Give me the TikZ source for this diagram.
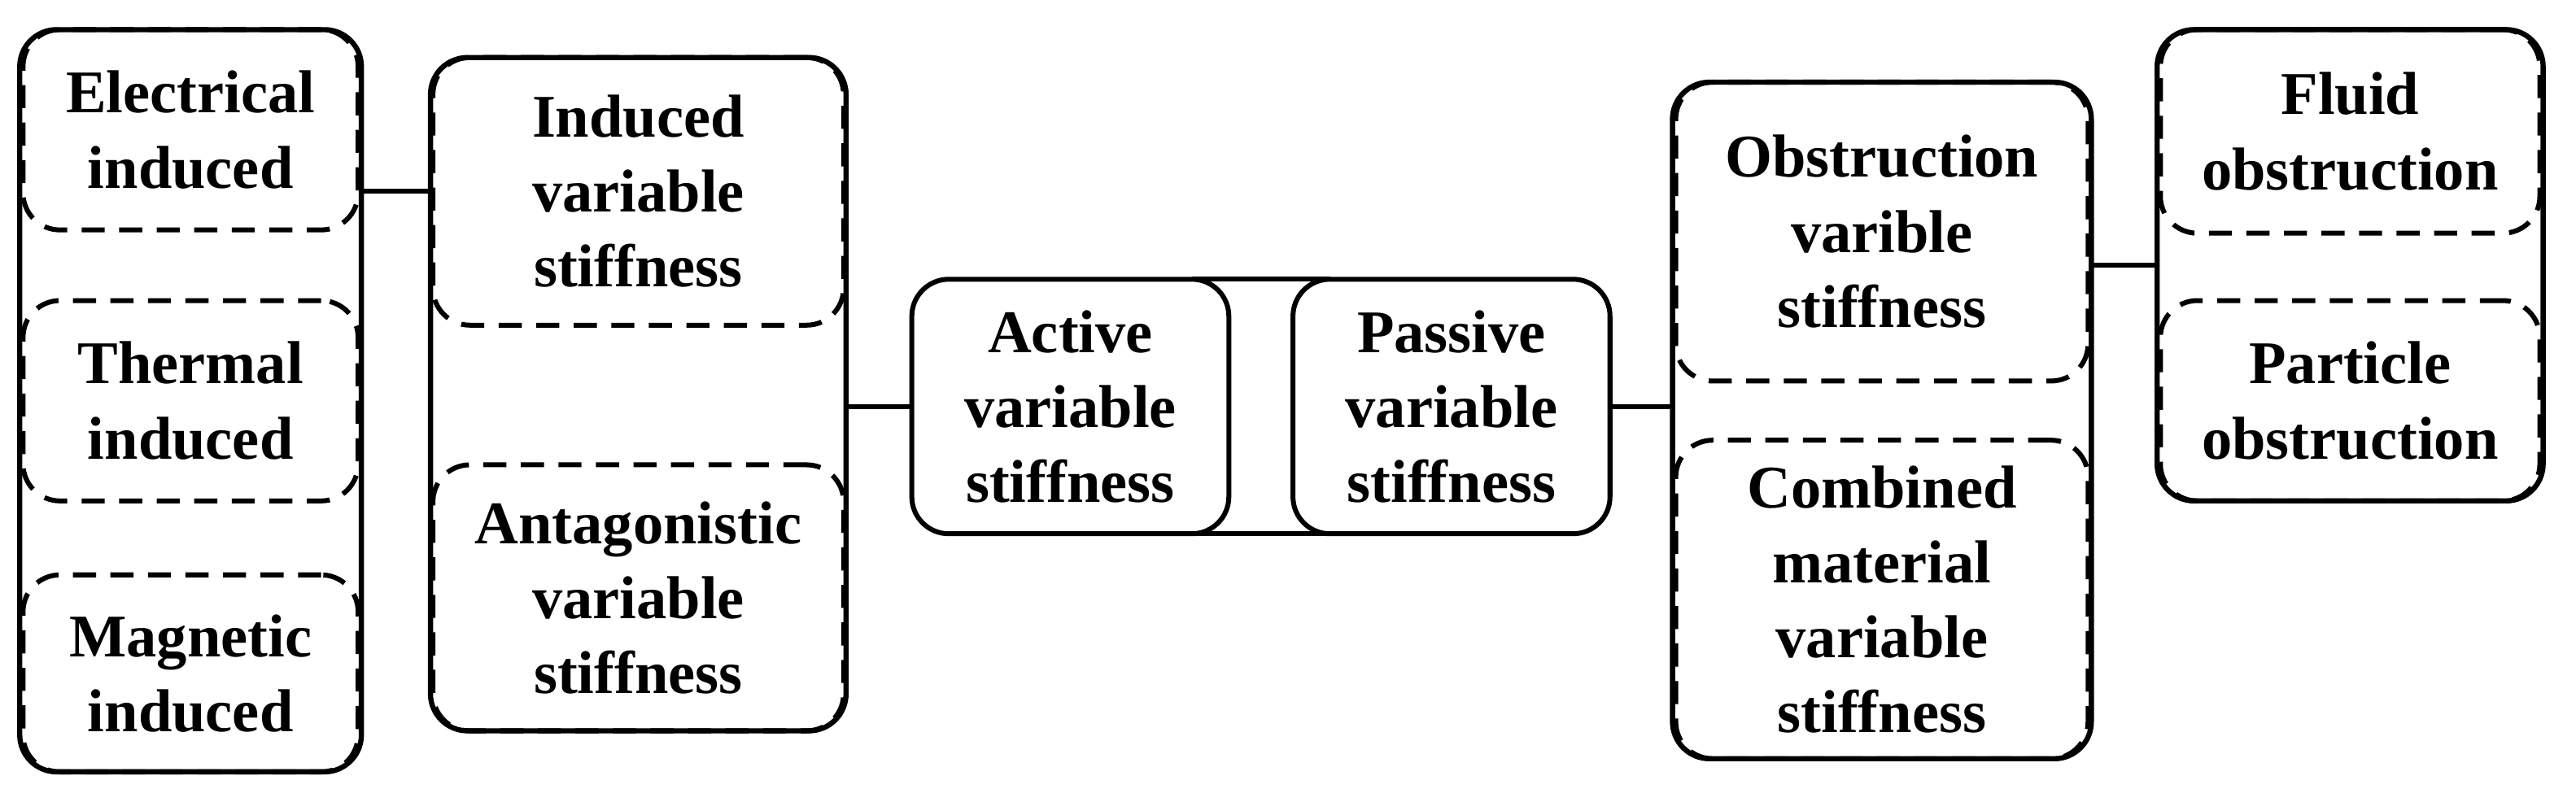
\documentclass[tikz,border=0pt]{standalone}
\usepackage{fontspec}
\setmainfont{Liberation Serif}
\begin{document}
\begin{tikzpicture}[x=0.02cm,y=-0.02cm,
  grp/.style={draw,line width=1.8pt,rounded corners=0.45cm,inner sep=0pt,outer sep=0pt},
  sub/.style={draw,dashed,dash pattern=on 8pt off 5pt,line width=1.7pt,rounded corners=0.45cm,
    align=center,inner sep=0pt,outer sep=0pt,font=\bfseries\fontsize{21}{26}\selectfont},
  link/.style={line width=1.8pt}]
	\useasboundingbox (0,0) rectangle (1568,488);
	
	% induced side
	\node[grp,minimum width=4.16cm,minimum height=9.04cm] (sens-grp) at (116,244) {};
	\node[sub,minimum width=4.08cm,minimum height=2.44cm] (elec) at (116,79) {Electrical\\induced};
	\node[sub,minimum width=4.08cm,minimum height=2.44cm] (therm) at (116,244) {Thermal\\induced};
	\node[sub,minimum width=4.08cm,minimum height=2.4cm] (magn) at (116,410) {Magnetic\\induced};
	
	\node[grp,minimum width=5.06cm,minimum height=8.2cm] (act-grp) at (388.5,240) {};
	\node[sub,minimum width=5cm,minimum height=3.26cm] (ind) at (388.5,116.5) {Induced\\variable\\stiffness};
	\node[sub,minimum width=5cm,minimum height=3.24cm] (antag) at (388.5,364) {Antagonistic\\variable\\stiffness};
	
	% middle
	\node[sub,solid,minimum width=3.86cm,minimum height=3.1cm] (active) at (651.5,247.5) {Active\\variable\\stiffness};
	\node[sub,solid,minimum width=3.86cm,minimum height=3.1cm] (passive) at (883.5,247.5) {Passive\\variable\\stiffness};
	
	% passive side
	\node[grp,minimum width=5.1cm,minimum height=8.24cm] (pas-grp) at (1145.5,256) {};
	\node[sub,minimum width=5.02cm,minimum height=3.64cm] (obst) at (1145.5,141) {Obstruction\\varible\\stiffness};
	\node[sub,minimum width=5.02cm,minimum height=3.88cm] (comb) at (1145.5,365) {Combined\\material\\variable\\stiffness};
	
	\node[grp,minimum width=4.7cm,minimum height=5.74cm] (obst-grp) at (1430.5,161.5) {};
	\node[sub,minimum width=4.62cm,minimum height=2.48cm] (fluid) at (1430.5,80) {Fluid\\obstruction};
	\node[sub,minimum width=4.62cm,minimum height=2.44cm] (part) at (1430.5,244) {Particle\\obstruction};
	
	\draw[link] (sens-grp.east |- ind) -- (act-grp.west |- ind);
	\draw[link] (act-grp.east |- active) -- (active.west);
	\draw[link] ([xshift=-0.45cm]active.north east) -- ([xshift=0.45cm]passive.north west);
	\draw[link] ([xshift=-0.45cm]active.south east) -- ([xshift=0.45cm]passive.south west);
	\draw[link] (passive.east) -- (pas-grp.west |- passive);
	\draw[link] (pas-grp.east |- obst-grp) -- (obst-grp.west);
\end{tikzpicture}
\end{document}
